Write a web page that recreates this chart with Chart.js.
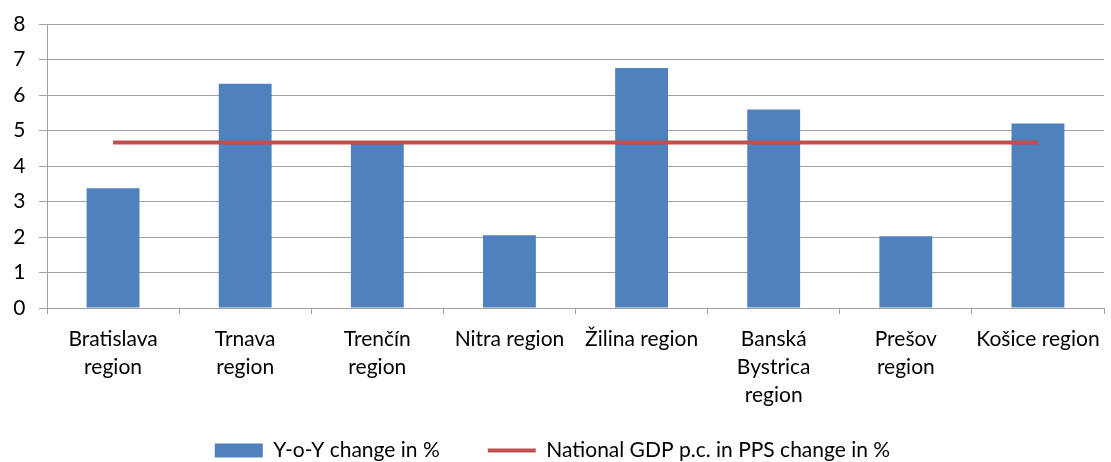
<!DOCTYPE html>
<html>
<head>
<meta charset="utf-8">
<script src="https://cdn.jsdelivr.net/npm/chart.js@4/dist/chart.umd.min.js"></script>
<style>
  html, body { margin: 0; padding: 0; background: #fff; }
  #wrap { width: 1111px; height: 462px; position: relative; }
</style>
</head>
<body>
<div id="wrap"><canvas id="chart"></canvas></div>
<script>
// Regions and values
const regions = [
    ['Bratislava', 'region'],
    ['Trnava', 'region'],
    ['Trenčín', 'region'],
    'Nitra region',
    'Žilina region',
    ['Banská', 'Bystrica', 'region'],
    ['Prešov', 'region'],
    'Košice region'
];
const yoyChange = [3.37, 6.32, 4.62, 2.05, 6.76, 5.59, 2.02, 5.2];
const nationalChange = [4.66, 4.66, 4.66, 4.66, 4.66, 4.66, 4.66, 4.66];
const yTicks = [0, 1, 2, 3, 4, 5, 6, 7, 8];

const fontFamily = 'Lato, "Open Sans", sans-serif';

// x labels run three lines deep, let them draw below the axis box
const extendXLabels = {
    id: 'extendXLabels',
    afterLayout: function(chart) {
        chart.scales.x.bottom += 30;
    }
};

const ctx = document.getElementById('chart').getContext('2d');
new Chart(ctx, {
    data: {
        labels: regions,
        datasets: [
            {
                type: 'bar',
                label: 'Y-o-Y change in %',
                data: yoyChange,
                backgroundColor: '#4F81BD',
                borderWidth: 0,
                barPercentage: 0.4,
                categoryPercentage: 1,
                pointStyle: 'rect',
                order: 1
            },
            {
                type: 'line',
                label: 'National GDP p.c. in PPS change in %',
                data: nationalChange,
                borderColor: '#C0504D',
                backgroundColor: '#C0504D',
                borderWidth: 4,
                pointRadius: 0,
                pointStyle: 'line',
                order: 0
            }
        ]
    },
    plugins: [extendXLabels],
    options: {
        responsive: true,
        maintainAspectRatio: false,
        animation: false,
        layout: { padding: { top: 0, right: 6, left: 0, bottom: -9 } },
        scales: {
            x: {
                grid: {
                    drawOnChartArea: false,
                    drawTicks: true,
                    tickLength: 6,
                    color: '#A0A0A0'
                },
                border: { color: '#A0A0A0' },
                ticks: {
                    color: '#000',
                    font: { family: fontFamily, size: 21, lineHeight: 1.33 },
                    maxRotation: 0,
                    autoSkip: false,
                    padding: 11
                },
                afterFit: function(scale) { scale.height = 84; }
            },
            y: {
                min: 0,
                max: 8,
                afterBuildTicks: function(scale) {
                    scale.ticks = yTicks.map(v => ({ value: v }));
                },
                grid: {
                    color: '#A0A0A0',
                    tickLength: 8,
                    lineWidth: 1
                },
                border: { color: '#A0A0A0' },
                ticks: {
                    color: '#000',
                    font: { family: fontFamily, size: 21, lineHeight: 1 },
                    padding: 13.5
                },
                afterFit: function(scale) { scale.width = 47; }
            }
        },
        plugins: {
            legend: {
                position: 'bottom',
                reverse: true,
                labels: {
                    usePointStyle: true,
                    pointStyleWidth: 48,
                    boxHeight: 14,
                    color: '#000',
                    font: { family: fontFamily, size: 21 },
                    padding: 48
                }
            },
            tooltip: { enabled: false }
        }
    }
});
</script>
</body>
</html>
